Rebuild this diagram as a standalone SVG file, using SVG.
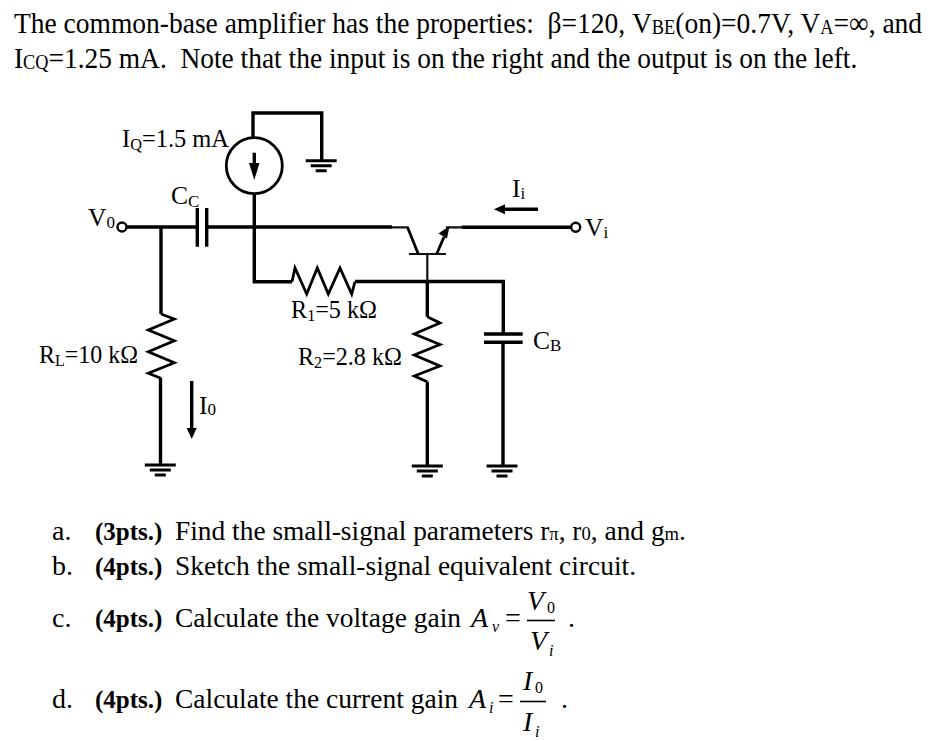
<svg xmlns="http://www.w3.org/2000/svg" width="939" height="741" viewBox="0 0 939 741">
<style>
text{font-family:"Liberation Serif","Times New Roman",serif;fill:#000}
.h{font-size:30px}
.l{font-size:25.5px}
.q{font-size:28px}
.b{font-size:25px;font-weight:bold}
.w{fill:none;stroke:#000;stroke-width:3.4;stroke-linejoin:miter}
.z{fill:none;stroke:#000;stroke-width:2.8}
.t{fill:none;stroke:#111;stroke-width:2.2}
.a{fill:#000;stroke:none}
.o{fill:#fff;stroke:#000;stroke-width:2.4}
.g{stroke:#000;stroke-width:3;fill:none}
</style>
<defs>
<g id="gnd">
<path class="g" d="M-15.5 0H15.5M-10.5 5H10.5M-5.5 10H5.5"/>
</g>
</defs>
<rect width="939" height="741" fill="#fff"/>
<g id="problem-text">
<text class="h" transform="translate(14 33) scale(.9 1)" textLength="1009" lengthAdjust="spacingAndGlyphs" xml:space="preserve">The common-base amplifier has the properties:  β=120, V<tspan font-size="20" dy="1">BE</tspan><tspan dy="-1">(on)=0.7V, V</tspan><tspan font-size="20" dy="1">A</tspan><tspan dy="-1">=∞, and</tspan></text>
<text class="h" transform="translate(14 68) scale(.9 1)" textLength="937" lengthAdjust="spacingAndGlyphs" xml:space="preserve">I<tspan font-size="20" dy="1">CQ</tspan><tspan dy="-1">=1.25 mA.  Note that the input is on the right and the output is on the left.</tspan></text>
</g>
<g id="connectors">
<path class="w" d="M253 138V113H321.7V161"/>
<path class="w" d="M254.3 194V281.7H292"/>
<path class="w" d="M127 227H197M206.7 227H392"/>
<path class="w" d="M161 227V314"/>
<path class="w" d="M355 281.5H503.3V334M503 342V466"/>
<path class="w" d="M427.3 281.5V316.7M427.3 381.7V466"/>
<path class="w" d="M160.5 378V465"/>
<path class="w" d="M461.7 227.3H571"/>
<path class="w" d="M191.7 381V430"/>
<path class="w" d="M538 209.3H504"/>
</g>
<g id="current-source">
<circle cx="254.3" cy="165.7" r="28" fill="#fff" stroke="#000" stroke-width="2.8"/>
<path class="w" d="M254.3 152.7V166"/>
<path class="a" d="M249 163H259.5L254.3 180Z"/>
</g>
<g id="ground-top"><use href="#gnd" x="321.2" y="160.7"/></g>
<g id="terminal-vo"><circle class="o" cx="122" cy="227" r="4.5"/></g>
<g id="capacitor-cc"><path class="w" d="M197.3 208V246.7M206.7 208V246.7"/></g>
<g id="resistor-r1"><path class="z" d="M292 281.7L295 268L306.7 294L317.3 268L328.3 294L340 268L351.7 294L355 281.7"/></g>
<g id="resistor-rl"><path class="z" d="M161 314L174.3 319L148.3 330L174.3 340.7L148.3 351.7L174.3 362.7L148.3 373.3L161 378.3"/></g>
<g id="ground-rl"><use href="#gnd" x="160.3" y="465"/></g>
<g id="transistor">
<path class="t" d="M390 227.3H408.5M409 254H446M427.3 254V281M446 227.3H463"/>
<path class="z" d="M407.5 227.3L418.3 254M436.7 254L444 237"/>
<path class="a" d="M449.5 226L438.5 233.5L447 238.5Z"/>
</g>
<g id="resistor-r2"><path class="z" d="M427.3 316.7L440 323L414.3 334L440 344.5L414.3 355L440 366L414.3 376L427.3 381.7"/></g>
<g id="ground-r2"><use href="#gnd" x="427.3" y="466"/></g>
<g id="capacitor-cb"><path class="w" d="M484 334H522.7M484 342.3H522.7"/></g>
<g id="ground-cb"><use href="#gnd" x="502" y="466"/></g>
<g id="terminal-vi"><circle class="o" cx="575.7" cy="227.3" r="4.5"/></g>
<g id="arrow-io"><path class="a" d="M186.7 428H196.7L191.7 439Z"/></g>
<g id="arrow-ii"><path class="a" d="M494 209.3L505 204.3V214.3Z"/></g>
<g id="labels">
<text class="l" x="122" y="147" textLength="107" lengthAdjust="spacingAndGlyphs">I<tspan font-size="17" dy="3">Q</tspan><tspan dy="-3">=1.5 mA</tspan></text>
<text class="l" x="171" y="204">C<tspan font-size="17" dy="3">C</tspan></text>
<text class="l" x="88" y="226">V<tspan font-size="17" dy="2">0</tspan></text>
<text class="l" x="585" y="236">V<tspan font-size="17" dy="2">i</tspan></text>
<text class="l" x="512" y="197">I<tspan font-size="17" dy="2">i</tspan></text>
<text class="l" x="291" y="318" textLength="86" lengthAdjust="spacingAndGlyphs">R<tspan font-size="17" dy="3">1</tspan><tspan dy="-3">=5 kΩ</tspan></text>
<text class="l" x="298" y="365" textLength="104" lengthAdjust="spacingAndGlyphs">R<tspan font-size="17" dy="3">2</tspan><tspan dy="-3">=2.8 kΩ</tspan></text>
<text class="l" x="39" y="363" textLength="99" lengthAdjust="spacingAndGlyphs">R<tspan font-size="17" dy="3">L</tspan><tspan dy="-3">=10 kΩ</tspan></text>
<text class="l" x="199" y="414">I<tspan font-size="17" dy="1">0</tspan></text>
<text class="l" x="533" y="349">C<tspan font-size="17" dy="2">B</tspan></text>
</g>
<g id="questions">
<text class="q" x="52" y="540">a.</text>
<text class="b" x="95" y="540">(3pts.)</text>
<text class="q" transform="translate(175 540) scale(.964 1)" textLength="530" lengthAdjust="spacingAndGlyphs">Find the small-signal parameters r<tspan font-size="19">π</tspan>, r<tspan font-size="19">0</tspan>, and g<tspan font-size="19">m</tspan>.</text>
<text class="q" x="52" y="575">b.</text>
<text class="b" x="95" y="575">(4pts.)</text>
<text class="q" x="175" y="575" textLength="461" lengthAdjust="spacingAndGlyphs">Sketch the small-signal equivalent circuit.</text>
<text class="q" x="52" y="627">c.</text>
<text class="b" x="95" y="627">(4pts.)</text>
<text class="q" x="175" y="627" textLength="286" lengthAdjust="spacingAndGlyphs">Calculate the voltage gain</text>
<text class="q" x="52" y="708">d.</text>
<text class="b" x="95" y="708">(4pts.)</text>
<text class="q" x="175" y="708" textLength="283" lengthAdjust="spacingAndGlyphs">Calculate the current gain</text>
</g>
<g id="formula-av" font-style="italic">
<text class="q" x="471" y="627">A</text>
<text x="492" y="632" font-size="16">v</text>
<text class="q" x="505" y="627" font-style="normal">=</text>
<path d="M527 620.5H555" stroke="#000" stroke-width="1.6"/>
<text class="q" x="527" y="610">V</text>
<text x="547" y="613" font-size="16" font-style="normal">0</text>
<text class="q" x="530" y="650">V</text>
<text x="549" y="656" font-size="16">i</text>
<text class="q" x="568" y="627" font-style="normal">.</text>
</g>
<g id="formula-ai" font-style="italic">
<text class="q" x="469" y="708">A</text>
<text x="489" y="713" font-size="16">i</text>
<text class="q" x="498" y="708" font-style="normal">=</text>
<path d="M520 701.5H546" stroke="#000" stroke-width="1.6"/>
<text class="q" x="523" y="690">I</text>
<text x="535" y="693" font-size="16" font-style="normal">0</text>
<text class="q" x="523" y="731">I</text>
<text x="535" y="737" font-size="16">i</text>
<text class="q" x="561" y="708" font-style="normal">.</text>
</g>
</svg>
